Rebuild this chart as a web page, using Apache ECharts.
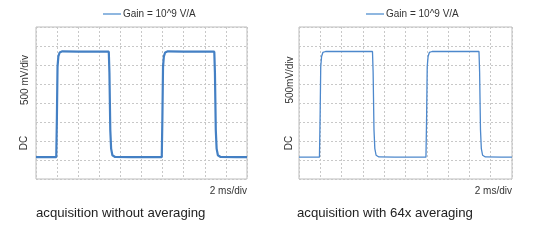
<!DOCTYPE html>
<html><head><meta charset="utf-8">
<script src="https://cdn.jsdelivr.net/npm/echarts@6/dist/echarts.min.js"></script>
<style>html,body{margin:0;padding:0;background:#fff}#c{width:554px;height:240px}</style>
</head><body><div id="c"></div>
<script>
// time in divisions (2 ms/div), voltage in divisions (500 mV/div)
const legendName = 'Gain = 10^9 V/A';
const xTicks = [0,1,2,3,4,5,6,7,8,9,10];
const timeLeft  = [0, 0.96, 0.99, 1.02, 1.06, 1.12, 1.25, 2.0, 3.0, 3.45, 3.48, 3.52, 3.56, 3.62, 3.75, 4.5, 5.5, 5.96, 5.99, 6.02, 6.06, 6.12, 6.25, 7.0, 8.0, 8.45, 8.48, 8.52, 8.56, 8.62, 8.75, 9.5, 10];
const valueLeft = [1.15, 1.15, 3.2, 5.9, 6.45, 6.66, 6.72, 6.70, 6.71, 6.70, 5.6, 2.6, 1.6, 1.25, 1.16, 1.15, 1.15, 1.15, 3.2, 5.9, 6.45, 6.66, 6.72, 6.70, 6.71, 6.70, 5.6, 2.6, 1.6, 1.25, 1.16, 1.15, 1.15];
const timeRight  = [0, 0.96, 0.99, 1.02, 1.06, 1.12, 1.25, 2.0, 3.0, 3.45, 3.48, 3.52, 3.56, 3.62, 3.75, 4.5, 5.5, 5.96, 5.99, 6.02, 6.06, 6.12, 6.25, 7.0, 8.0, 8.45, 8.48, 8.52, 8.56, 8.62, 8.75, 9.5, 10];
const valueRight = [1.15, 1.15, 3.2, 5.9, 6.45, 6.66, 6.71, 6.71, 6.71, 6.71, 5.6, 2.6, 1.6, 1.25, 1.16, 1.15, 1.15, 1.15, 3.2, 5.9, 6.45, 6.66, 6.71, 6.71, 6.71, 6.71, 5.6, 2.6, 1.6, 1.25, 1.16, 1.15, 1.15];
const yLabel = '500 mV/div';
const yLabelRight = '500mV/div';
const couplingLabel = 'DC';
const xLabel = '2 ms/div';
const captionLeft = 'acquisition without averaging';
const captionRight = 'acquisition with 64x averaging';

const chart = echarts.init(document.getElementById('c'), null, {renderer:'canvas'});
const FONT = 'Liberation Sans';
const gridColor = '#c8c8c8';
function xAx(i){return {gridIndex:i,type:'value',min:0,max:10,interval:1,axisLine:{show:false},axisTick:{show:false},axisLabel:{show:false},splitLine:{show:true,lineStyle:{color:gridColor,type:[2,2],width:1}}};}
function yAx(i){return {gridIndex:i,type:'value',min:0,max:8,interval:1,axisLine:{show:false},axisTick:{show:false},axisLabel:{show:false},splitLine:{show:true,lineStyle:{color:gridColor,type:[2,2],width:1}}};}
const pairs = (t,v)=>t.map((x,i)=>[x,v[i]]);
chart.setOption({
  animation:false,
  textStyle:{fontFamily:FONT},
  grid:[
    {left:36,top:27,width:211,height:152,show:true,borderColor:'#bdbdbd',borderWidth:1},
    {left:299,top:27,width:213,height:152,show:true,borderColor:'#bdbdbd',borderWidth:1}
  ],
  xAxis:[xAx(0),xAx(1)],
  yAxis:[yAx(0),yAx(1)],
  legend:[
    {left:103,top:9,padding:0,icon:'rect',itemWidth:18,itemHeight:1.5,itemGap:4,textStyle:{fontSize:10,color:'#333',fontFamily:FONT,padding:[0,0,0,-3]},data:[legendName]},
    {left:366,top:9,padding:0,icon:'rect',itemWidth:18,itemHeight:1.5,itemGap:4,textStyle:{fontSize:10,color:'#333',fontFamily:FONT,padding:[0,0,0,-3]},data:[legendName]}
  ],
  series:[
    {name:legendName,type:'line',xAxisIndex:0,yAxisIndex:0,data:pairs(timeLeft,valueLeft),symbol:'none',lineStyle:{color:'#4480c4',width:2.2},itemStyle:{color:'#6a9fd6'}},
    {name:legendName,type:'line',xAxisIndex:1,yAxisIndex:1,data:pairs(timeRight,valueRight),symbol:'none',lineStyle:{color:'#4d88cc',width:1.3},itemStyle:{color:'#6a9fd6'}}
  ],
  graphic:[
    {type:'text',x:25,y:80,rotation:Math.PI/2,style:{text:yLabel,fontSize:10,fill:'#333',fontFamily:FONT,align:'center',verticalAlign:'middle'}},
    {type:'text',x:24,y:143,rotation:Math.PI/2,style:{text:couplingLabel,fontSize:10,fill:'#333',fontFamily:FONT,align:'center',verticalAlign:'middle'}},
    {type:'text',x:290,y:80,rotation:Math.PI/2,style:{text:yLabelRight,fontSize:10,fill:'#333',fontFamily:FONT,align:'center',verticalAlign:'middle'}},
    {type:'text',x:289,y:143,rotation:Math.PI/2,style:{text:couplingLabel,fontSize:10,fill:'#333',fontFamily:FONT,align:'center',verticalAlign:'middle'}},
    {type:'text',x:247,y:191,style:{text:xLabel,fontSize:10,fill:'#333',fontFamily:FONT,align:'right',verticalAlign:'middle'}},
    {type:'text',x:512,y:191,style:{text:xLabel,fontSize:10,fill:'#333',fontFamily:FONT,align:'right',verticalAlign:'middle'}},
    {type:'text',x:36,y:213,style:{text:captionLeft,fontSize:13.2,fill:'#222',fontFamily:FONT,align:'left',verticalAlign:'middle'}},
    {type:'text',x:297,y:213,style:{text:captionRight,fontSize:13.2,fill:'#222',fontFamily:FONT,align:'left',verticalAlign:'middle'}}
  ]
});
</script></body></html>
